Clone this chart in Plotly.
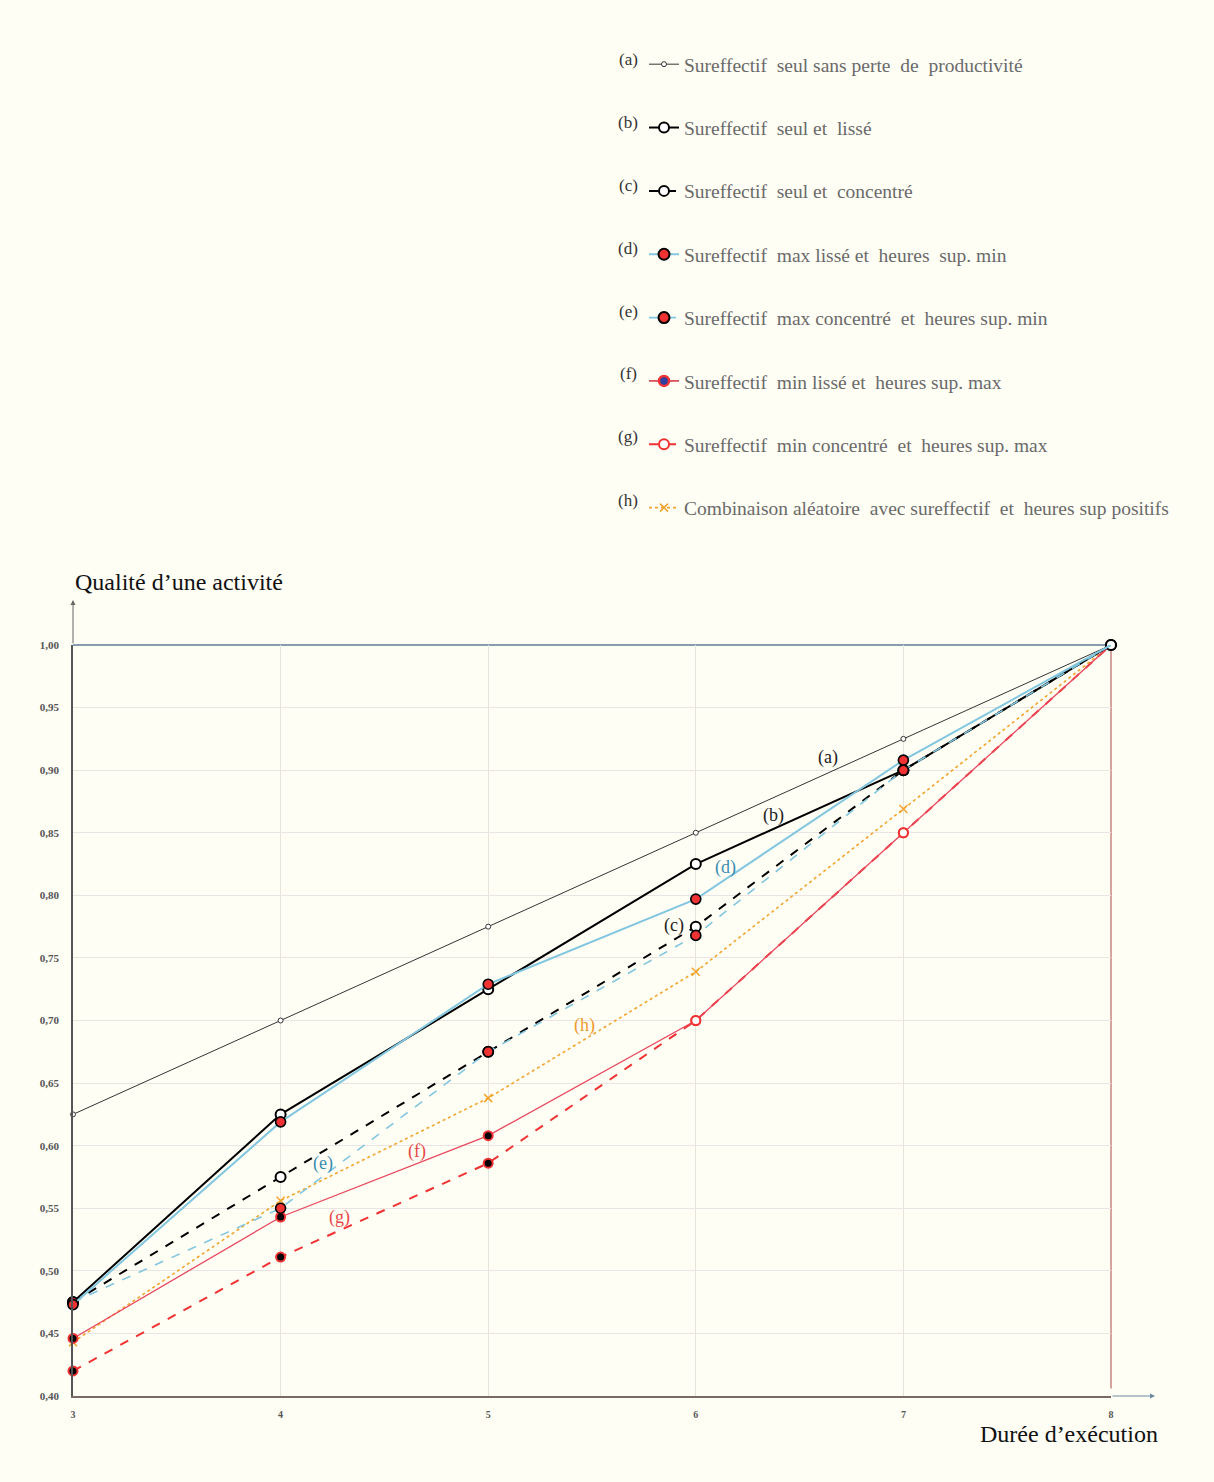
import plotly.graph_objects as go

# ---------------- data ----------------
durees = [3, 4, 5, 6, 7, 8]
serie_a = [0.625, 0.700, 0.775, 0.850, 0.925, 1.000]
serie_b = [0.475, 0.625, 0.725, 0.825, 0.900, 1.000]
serie_c = [0.475, 0.575, 0.675, 0.775, 0.900, 1.000]
serie_d = [0.473, 0.619, 0.729, 0.797, 0.908, 1.000]
serie_e = [0.475, 0.550, 0.675, 0.768, 0.900, 1.000]
serie_f = [0.446, 0.543, 0.608, 0.700, 0.850, 1.000]
serie_g = [0.420, 0.511, 0.586, 0.700, 0.850, 1.000]
serie_h = [0.443, 0.556, 0.638, 0.739, 0.869, 1.000]

lettres = ["(a)", "(b)", "(c)", "(d)", "(e)", "(f)", "(g)", "(h)"]
noms = [
    "Sureffectif  seul sans perte  de  productivité",
    "Sureffectif  seul et  lissé",
    "Sureffectif  seul et  concentré",
    "Sureffectif  max lissé et  heures  sup. min",
    "Sureffectif  max concentré  et  heures sup. min",
    "Sureffectif  min lissé et  heures sup. max",
    "Sureffectif  min concentré  et  heures sup. max",
    "Combinaison aléatoire  avec sureffectif  et  heures sup positifs",
]
y_ticks = [0.40, 0.45, 0.50, 0.55, 0.60, 0.65, 0.70, 0.75, 0.80, 0.85, 0.90, 0.95, 1.00]

# label positions (data coords) for the in-chart letters
lab_x = [6.637, 6.372, 5.895, 6.141, 4.204, 4.657, 4.286, 5.466]
lab_y = [0.9105, 0.8634, 0.7763, 0.8226, 0.5861, 0.595, 0.543, 0.6964]

# ---------------- style ----------------
FONT = "Liberation Serif"
BG = "#FFFEF5"
BLUE = "#82C6DF"
RED = "#F03232"
PINK = "#E8485E"
ORANGE = "#F2A42C"

fig = go.Figure()

def add(y, name, rank, line, marker, showlegend=True):
    fig.add_trace(go.Scatter(
        x=durees, y=y, name=name, mode="lines+markers",
        line=line, marker=marker, legendrank=rank, legendgroup=name,
        showlegend=showlegend, cliponaxis=False,
    ))

def legend_only(name, rank, line, marker):
    fig.add_trace(go.Scatter(
        x=[None], y=[None], name=name, mode="lines+markers", legendrank=rank,
        legendgroup=name, line=line, marker=marker,
    ))

# markers at the common end point (8) are hidden under the (b)/(c) circle
op_end = [1, 1, 1, 1, 1, 0]

# drawing order (a, h, g, f, c, b, e, d); legend order via legendrank
add(serie_a, noms[0], 1, dict(color="#333333", width=1),
    dict(symbol="circle", size=5, color="white", line=dict(color="#333333", width=1)))
add(serie_h, noms[7], 8, dict(color=ORANGE, width=1.6, dash="dot"),
    dict(symbol="x-thin", size=8, color=ORANGE, line=dict(color=ORANGE, width=1.5)))

# (g) red dashed
g_fill = ["black", "black", "black", "white", "white", "white"]
add(serie_g, noms[6], 7, dict(color=RED, width=2, dash="dash"),
    dict(symbol="circle", size=9, color=g_fill, opacity=op_end, line=dict(color=RED, width=2)),
    showlegend=False)
legend_only(noms[6], 7, dict(color=RED, width=2, dash="dash"),
            dict(symbol="circle", size=10, color="white", line=dict(color=RED, width=2)))

# (f) thin red solid
f_fill = ["black", "black", "black", "white", "white", "white"]
add(serie_f, noms[5], 6, dict(color=PINK, width=1.3),
    dict(symbol="circle", size=9, color=f_fill, opacity=op_end, line=dict(color=RED, width=2)),
    showlegend=False)
legend_only(noms[5], 6, dict(color="#D0303A", width=1.5),
            dict(symbol="circle", size=10, color="#3040A0", line=dict(color=RED, width=2.5)))

add(serie_c, noms[2], 3, dict(color="black", width=2, dash="dash"),
    dict(symbol="circle", size=10, color="white", line=dict(color="black", width=2)))
add(serie_b, noms[1], 2, dict(color="black", width=2),
    dict(symbol="circle", size=10, color="white", line=dict(color="black", width=2)))

add(serie_e, noms[4], 5, dict(color=BLUE, width=1.6, dash="dash"),
    dict(symbol="circle", size=10, color=RED, opacity=op_end, line=dict(color="black", width=1.6)),
    showlegend=False)
legend_only(noms[4], 5, dict(color=BLUE, width=1.8, dash="dash"),
            dict(symbol="circle", size=11, color=RED, line=dict(color="black", width=2)))

add(serie_d, noms[3], 4, dict(color=BLUE, width=2),
    dict(symbol="circle", size=10, color=RED, opacity=op_end, line=dict(color="black", width=1.6)),
    showlegend=False)
legend_only(noms[3], 4, dict(color=BLUE, width=2),
            dict(symbol="circle", size=11, color=RED, line=dict(color="black", width=2)))

# in-chart letters
lab_cols = ["#222222", "#222222", "#222222", "#3A8DB0", "#3A8DB0", "#E84848", "#E84848", "#EE9A2C"]
for i in range(8):
    fig.add_annotation(x=lab_x[i], y=lab_y[i], text=lettres[i], showarrow=False,
                       font=dict(family=FONT, size=18, color=lab_cols[i]))

# frame lines (top, right)
fig.add_shape(type="line", xref="paper", yref="paper", x0=0, x1=1, y0=1, y1=1,
              line=dict(color="#5E7E98", width=1.5), layer="below")
fig.add_shape(type="line", xref="paper", yref="paper", x0=1, x1=1, y0=0.01, y1=1,
              line=dict(color="#B04848", width=1), layer="below")

# axis arrows
fig.add_annotation(xref="paper", yref="paper", x=1.0424, y=0, ax=-44, ay=0, text="",
                   showarrow=True, arrowhead=2, arrowsize=1, arrowwidth=1, arrowcolor="#6A8AA0")
fig.add_annotation(xref="paper", yref="paper", x=0, y=1.06, ax=0, ay=45, text="",
                   showarrow=True, arrowhead=2, arrowsize=1, arrowwidth=1, arrowcolor="#666666")

# axis titles
fig.add_annotation(xref="paper", yref="paper", x=0, y=1.084, xanchor="left", yanchor="middle",
                   text="Qualité d’une activité", showarrow=False,
                   font=dict(family=FONT, size=24, color="#111111"))
fig.add_annotation(xref="paper", yref="paper", x=1.0472, y=-0.0506, xanchor="right", yanchor="middle",
                   text="Durée d’exécution", showarrow=False,
                   font=dict(family=FONT, size=24, color="#111111"))

# legend letters
leg_top_px = 63
leg_step = 63
H_plot = 1482 - 645 - 86
for i in range(8):
    ypx = leg_top_px + i * leg_step - 4
    fig.add_annotation(xref="paper", yref="paper", x=(628 - 73) / 1038,
                       y=1 + (645 - ypx) / H_plot, text=lettres[i], showarrow=False,
                       xanchor="center", yanchor="middle",
                       font=dict(family=FONT, size=17, color="#333333"))

fig.update_layout(
    width=1214, height=1482,
    margin=dict(l=73, r=103, t=645, b=86),
    paper_bgcolor=BG, plot_bgcolor=BG,
    separators=", ",
    font=dict(family=FONT),
    showlegend=True,
    legend=dict(
        x=(644 - 73) / 1038, y=1 + (645 - 45) / H_plot,
        xanchor="left", yanchor="top",
        bgcolor="rgba(0,0,0,0)", tracegroupgap=35,
        font=dict(family=FONT, size=19.5, color="#6A6A6A"),
        itemwidth=30,
    ),
    xaxis=dict(
        range=[3, 8], tickmode="array", tickvals=durees, ticktext=[str(v) for v in durees],
        showgrid=True, gridcolor="#E6E2DE", gridwidth=1, zeroline=False,
        showline=True, linecolor="#7A6A66", linewidth=2,
        tickfont=dict(family=FONT, size=10, color="#555555", weight="bold"),
        ticks="", ticklabelstandoff=8,
    ),
    yaxis=dict(
        range=[0.40, 1.00], tickmode="array", tickvals=y_ticks, tickformat=".2f",
        showgrid=True, gridcolor="#EAE4E4", gridwidth=1, zeroline=False,
        showline=True, linecolor="#555555", linewidth=1.5,
        tickfont=dict(family=FONT, size=11, color="#555555", weight="bold"),
        ticks="", ticklabelstandoff=10,
    ),
)

fig.write_html("out.html", config={"displayModeBar": False},
               post_script="document.body.style.margin='0';")
